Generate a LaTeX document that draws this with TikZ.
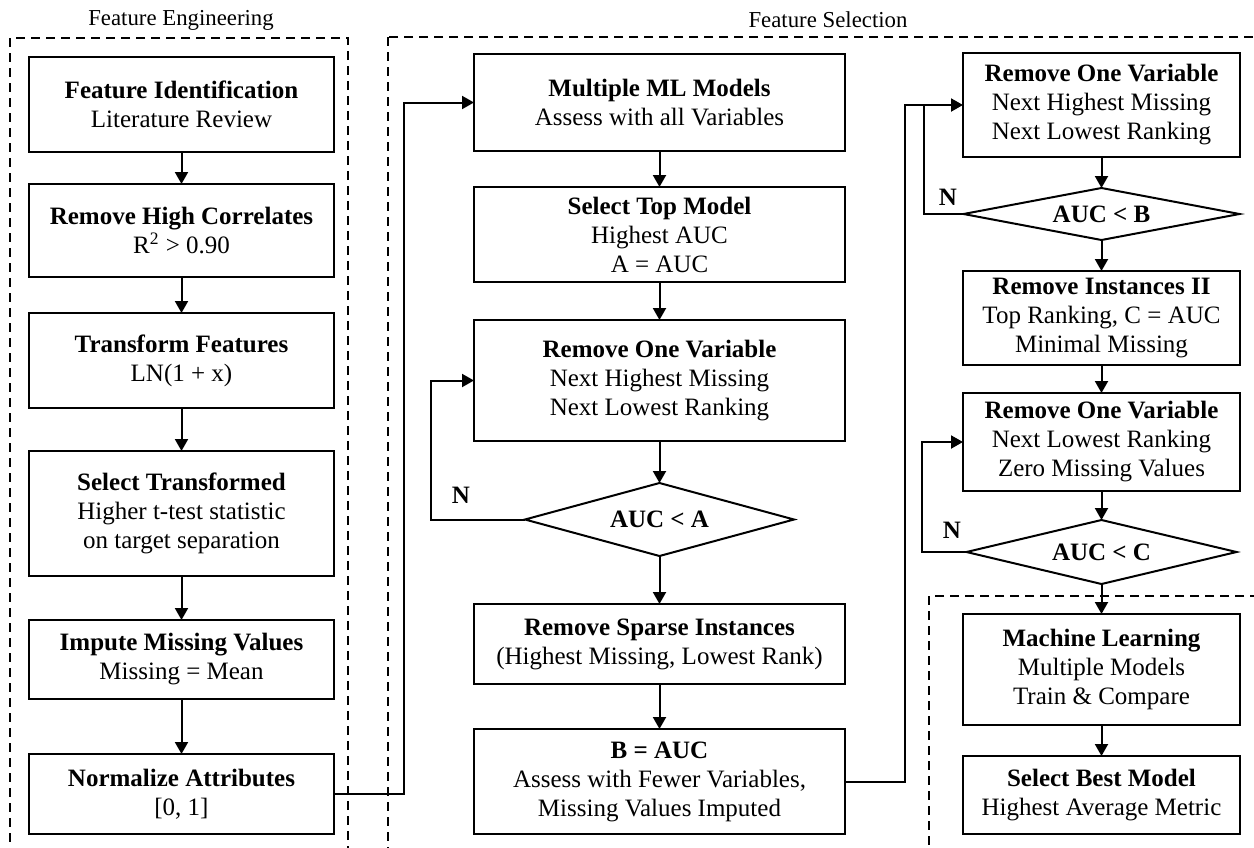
\documentclass[tikz,border=0pt]{standalone}
\usepackage{fontspec}
\setmainfont{Liberation Serif}
\usetikzlibrary{arrows.meta,positioning,shapes.geometric}

\begin{document}
\begin{tikzpicture}[x=0.5pt,y=-0.5pt,>={Triangle[length=6pt,width=6.5pt]},
 box/.style={draw,line width=1.2pt,outer sep=0pt,align=center,inner sep=1pt,font=\fontsize{12.5}{14.5}\selectfont},
 lbox/.style={box,minimum width=152.5pt},
 mbox/.style={box,minimum width=185.5pt},
 rbox/.style={box,minimum width=138.5pt},
 test/.style={diamond,draw,line width=1pt,outer sep=0pt,inner sep=0pt,font=\bfseries\fontsize{12.5}{14.5}\selectfont},
 frame/.style={draw,line width=1pt,dash pattern=on 4.5pt off 3pt},
 title/.style={font=\fontsize{11.4}{13}\selectfont},
 nlbl/.style={font=\bfseries\fontsize{12.5}{14.5}\selectfont},
 link/.style={line width=1pt}]
\path[use as bounding box] (0,0) rectangle (1254,847);

% groups
\draw[frame] (10,38) rectangle (348,900);
\draw[frame] (388,37) rectangle (1300,900);
\draw[frame] (929,596) rectangle (1300,900);
\node[title] (fetitle) at (181,20) {Feature Engineering};
\node[title] (fstitle) at (828,20) {Feature Selection};

% feature engineering
\node[lbox,minimum height=47.5pt] (fi) at (181.5,104.5) {\textbf{Feature Identification}\\Literature Review};
\node[lbox,minimum height=46.5pt,below=16pt of fi] (rhc) {\textbf{Remove High Correlates}\\R\textsuperscript{2} > 0.90};
\node[lbox,minimum height=47.5pt,below=18pt of rhc] (tf) {\textbf{Transform Features}\\LN(1 + x)};
\node[lbox,minimum height=62.5pt,below=21.5pt of tf] (st) {\textbf{Select Transformed}\\Higher t-test statistic\\on target separation};
\node[lbox,minimum height=39.5pt,below=22pt of st] (imv) {\textbf{Impute Missing Values}\\Missing = Mean};
\node[lbox,minimum height=40pt,below=27.5pt of imv] (na) {\textbf{Normalize Attributes}\\{[0, 1]}};

% feature selection, first pass
\node[mbox,minimum height=48.5pt] (mlm) at (659.5,102.5) {\textbf{Multiple ML Models}\\Assess with all Variables};
\node[mbox,minimum height=47.5pt,below=18pt of mlm] (stm) {\textbf{Select Top Model}\\Highest AUC\\A = AUC};
\node[mbox,minimum height=60.5pt,below=19pt of stm] (rov1) {\textbf{Remove One Variable}\\Next Highest Missing\\Next Lowest Ranking};
\node[test,aspect=3.7,minimum width=134.5pt,minimum height=36.5pt,below=21pt of rov1] (dA) {AUC < A};
\node[mbox,minimum height=40pt,below=24pt of dA] (rsi) {\textbf{Remove Sparse Instances}\\(Highest Missing, Lowest Rank)};
\node[mbox,minimum height=52.5pt,below=22.5pt of rsi] (bauc) {\textbf{B = AUC}\\Assess with Fewer Variables,\\Missing Values Imputed};

% feature selection, second pass
\node[rbox,minimum height=52pt] (rov2) at (1101.5,105) {\textbf{Remove One Variable}\\Next Highest Missing\\Next Lowest Ranking};
\node[test,aspect=5.3,minimum width=138pt,minimum height=26pt,below=15.5pt of rov2] (dB) {AUC < B};
\node[rbox,minimum height=47pt,below=15.5pt of dB] (ri2) {\textbf{Remove Instances II}\\Top Ranking, C = AUC\\Minimal Missing};
\node[rbox,minimum height=49pt,below=14pt of ri2] (rov3) {\textbf{Remove One Variable}\\Next Lowest Ranking\\Zero Missing Values};
\node[test,aspect=4.2,minimum width=135pt,minimum height=32pt,below=14.5pt of rov3] (dC) {AUC < C};
\node[rbox,minimum height=55.5pt,below=15pt of dC] (ml) {\textbf{Machine Learning}\\Multiple Models\\Train \& Compare};
\node[rbox,minimum height=39pt,below=15.5pt of ml] (sbm) {\textbf{Select Best Model}\\Highest Average Metric};

% straight links
\foreach \a/\b in {fi/rhc,rhc/tf,tf/st,st/imv,imv/na,
  mlm/stm,stm/rov1,rov1/dA,dA/rsi,rsi/bauc,
  rov2/dB,dB/ri2,ri2/rov3,rov3/dC,dC/ml,ml/sbm}
  \draw[link,->] (\a) -- (\b);

% jumps between columns
\draw[link,->] (na.east) -- ++(70,0) |- (mlm.west);
\draw[link,->] (bauc.east) -- ++(60,0) |- (rov2.west);

% loops back (N)
\draw[link,->] (dA.west) -- ++(-94,0) |- (rov1.west);
\coordinate (mB) at ([xshift=-19.5pt]rov2.west);
\draw[link] (dB.west) -| (mB);
\draw[link,->] (dC.west) -- ++(-45,0) |- (rov3.west);
\node[nlbl] (nA) at (461,495) {N};
\node[nlbl] (nB) at (948,197) {N};
\node[nlbl] (nC) at (952,530) {N};
\end{tikzpicture}
\end{document}
